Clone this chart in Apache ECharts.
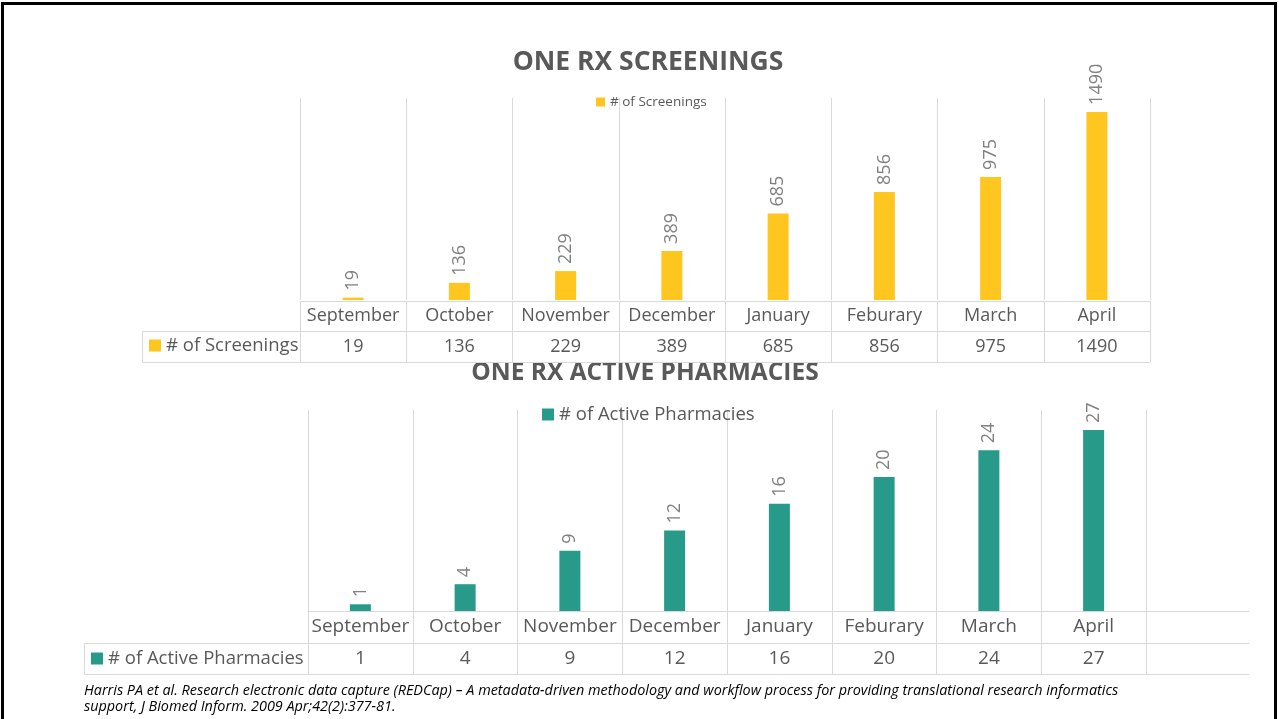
<!DOCTYPE html>
<html>
<head>
<meta charset="utf-8">
<title>One Rx</title>
<script src="https://cdn.jsdelivr.net/npm/echarts@6/dist/echarts.min.js"></script>
<style>
  html, body { margin: 0; padding: 0; background: #fff; }
  #chart { width: 1279px; height: 719px; }
</style>
</head>
<body>
<div id="chart"></div>
<script>
var months = ['September', 'October', 'November', 'December', 'January', 'Feburary', 'March', 'April']
var screenings = [19, 136, 229, 389, 685, 856, 975, 1490]
var pharmacies = [1, 4, 9, 12, 16, 20, 24, 27]
var screeningsName = '# of Screenings'
var pharmaciesName = '# of Active Pharmacies'
var titles = ['ONE RX SCREENINGS', 'ONE RX ACTIVE PHARMACIES']
var footnote = [
  'Harris PA et al. Research electronic data capture (REDCap) \u2013 A metadata-driven methodology and workflow process for providing translational research informatics',
  'support, J Biomed Inform. 2009 Apr;42(2):377-81.'
]

var FONT = 'Open Sans'
var GRID_COLOR = '#d9d9d9'
var TEXT_COLOR = '#595959'
var LABEL_COLOR = '#808080'
var YELLOW = '#ffc61f'
var TEAL = '#279a89'

// data table under each chart: row lines on lineGrid, cell text + dividers on cellGrid
function tableAxes (lineGrid, cellGrid, cats, vals, row1, row2, fontSize) {
  var line = { show: true, onZero: false, lineStyle: { color: GRID_COLOR, width: 1 } }
  var noLine = { show: false, onZero: false }
  var label = { inside: true, interval: 0, verticalAlign: 'middle', color: TEXT_COLOR, fontFamily: FONT, fontSize: fontSize }
  var lineAxis = function (position, offset) {
    return {
      gridIndex: lineGrid, type: 'category', data: cats, position: position, offset: offset,
      axisLine: line, axisTick: { show: false }, axisLabel: { show: false }, splitLine: { show: false }
    }
  }
  return [
    lineAxis('top', 0),
    lineAxis('top', -row1),
    lineAxis('bottom', 0),
    {
      gridIndex: cellGrid, type: 'category', data: cats, position: 'top',
      axisLine: noLine,
      axisTick: { show: true, inside: true, interval: 0, length: row1 + row2, lineStyle: { color: GRID_COLOR } },
      axisLabel: Object.assign({ margin: row1 / 2 }, label),
      splitLine: { show: false }
    },
    {
      gridIndex: cellGrid, type: 'category', data: vals, position: 'top', offset: -row1,
      axisLine: noLine,
      axisTick: { show: false },
      axisLabel: Object.assign({ margin: row2 / 2 }, label),
      splitLine: { show: false }
    }
  ]
}

function plotAxis (gridIndex, cats) {
  return {
    gridIndex: gridIndex,
    type: 'category',
    data: cats,
    axisLine: { show: false },
    axisTick: { show: false },
    axisLabel: { show: false },
    splitLine: { show: true, interval: 0, lineStyle: { color: GRID_COLOR, width: 1 } }
  }
}

function barSeries (name, data, xi, yi, color) {
  return {
    type: 'bar',
    name: name,
    data: data,
    xAxisIndex: xi,
    yAxisIndex: yi,
    barWidth: 21,
    itemStyle: { color: color },
    label: {
      show: true,
      position: 'top',
      rotate: 90,
      align: 'left',
      verticalAlign: 'middle',
      distance: 7,
      color: LABEL_COLOR,
      fontFamily: FONT,
      fontSize: 18
    }
  }
}

function legend (name, left, top, size, fontSize) {
  return {
    data: [name],
    left: left,
    top: top,
    padding: 0,
    icon: 'rect',
    itemWidth: size,
    itemHeight: size,
    selectedMode: false,
    textStyle: { color: TEXT_COLOR, fontFamily: FONT, fontSize: fontSize }
  }
}

function titleText (text, x, y, size) {
  return {
    type: 'text',
    x: x,
    y: y,
    style: { text: text, align: 'center', verticalAlign: 'middle', fill: TEXT_COLOR, font: 'bold ' + size + 'px "' + FONT + '"' }
  }
}

var option = {
  animation: false,
  backgroundColor: '#fff',
  grid: [
    { left: 300, top: 98, width: 850, height: 202, outerBoundsMode: 'none' },
    { left: 300, top: 301, width: 850, height: 61, outerBoundsMode: 'none' },
    { left: 308, top: 410, width: 838, height: 201, outerBoundsMode: 'none' },
    { left: 308, top: 611, width: 941, height: 63, outerBoundsMode: 'none' },
    { left: 308, top: 611, width: 838, height: 63, outerBoundsMode: 'none' }
  ],
  xAxis: [plotAxis(0, months)]
    .concat(tableAxes(1, 1, months, screenings.map(String), 30, 31, 18))
    .concat([plotAxis(2, months)])
    .concat(tableAxes(3, 4, months, pharmacies.map(String), 32, 31, 19)),
  yAxis: [
    { gridIndex: 0, type: 'value', min: 0, max: 1600, show: false },
    { gridIndex: 1, type: 'value', min: 0, max: 1, show: false },
    { gridIndex: 2, type: 'value', min: 0, max: 30, show: false },
    { gridIndex: 3, type: 'value', min: 0, max: 1, show: false },
    { gridIndex: 4, type: 'value', min: 0, max: 1, show: false }
  ],
  legend: [
    legend(screeningsName, 596, 95, 9, 13.5),
    legend(screeningsName, 149, 336, 12, 18.5),
    legend(pharmaciesName, 542, 405, 12, 18.5),
    legend(pharmaciesName, 91, 649, 12, 18.5)
  ],
  series: [
    barSeries(screeningsName, screenings, 0, 0, YELLOW),
    barSeries(pharmaciesName, pharmacies, 6, 2, TEAL)
  ],
  graphic: [
    { type: 'rect', shape: { x: 2.5, y: 3.5, width: 1273, height: 800 }, style: { fill: 'none', stroke: '#000', lineWidth: 3 } },
    { type: 'rect', shape: { x: 142.5, y: 331.5, width: 158, height: 31 }, style: { fill: 'none', stroke: GRID_COLOR, lineWidth: 1 } },
    { type: 'rect', shape: { x: 84.5, y: 643.5, width: 224, height: 31 }, style: { fill: 'none', stroke: GRID_COLOR, lineWidth: 1 } },
    titleText(titles[0], 648, 62, 26.5),
    titleText(titles[1], 645, 373, 24.5),
    { type: 'text', x: 84, y: 691, style: { text: footnote[0], verticalAlign: 'middle', fill: '#000', font: 'italic 14.4px "' + FONT + '"' } },
    { type: 'text', x: 84, y: 707, style: { text: footnote[1], verticalAlign: 'middle', fill: '#000', font: 'italic 14.4px "' + FONT + '"' } }
  ]
}

var chart = echarts.init(document.getElementById('chart'))
chart.setOption(option)
</script>
</body>
</html>
